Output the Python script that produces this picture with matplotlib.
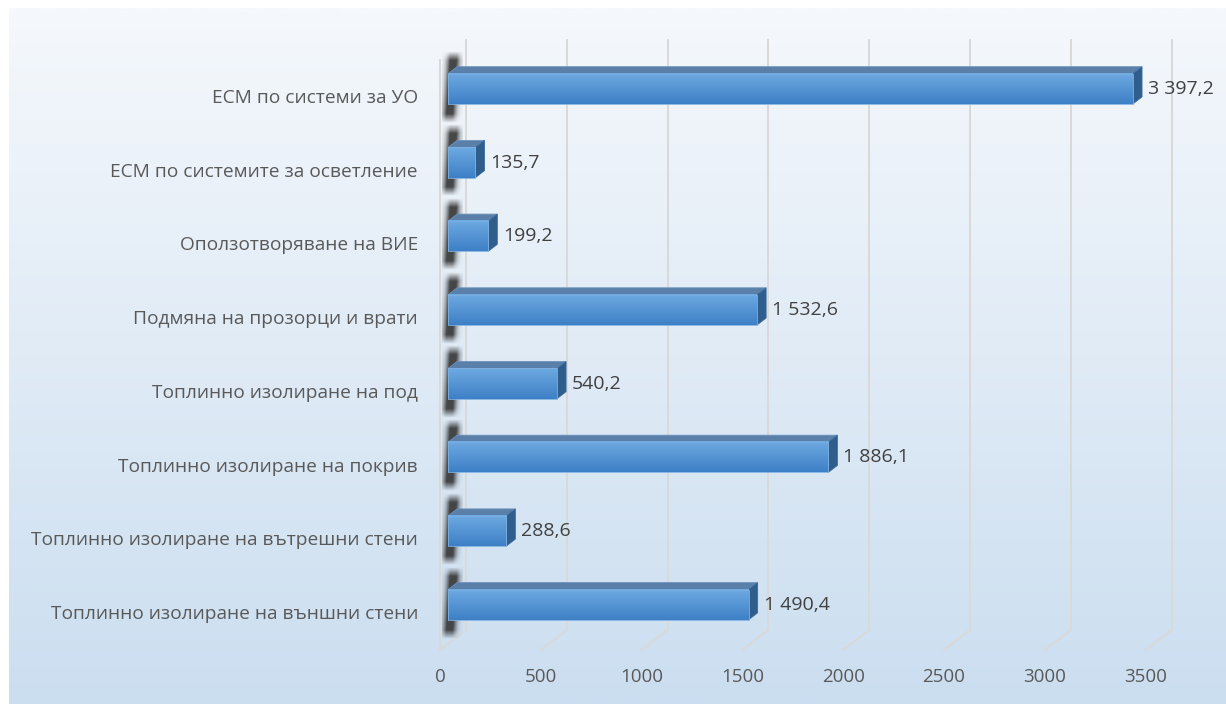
import numpy as np
import matplotlib.pyplot as plt
from matplotlib.colors import to_rgb

plt.rcParams['font.family'] = ['Open Sans', 'DejaVu Sans']

# --- data (top to bottom, as shown) ---
categories = [
    'ЕСМ по системи за УО',
    'ЕСМ по системите за осветление',
    'Оползотворяване на ВИЕ',
    'Подмяна на прозорци и врати',
    'Топлинно изолиране на под',
    'Топлинно изолиране на покрив',
    'Топлинно изолиране на вътрешни стени',
    'Топлинно изолиране на външни стени',
]
values = [3397.2, 135.7, 199.2, 1532.6, 540.2, 1886.1, 288.6, 1490.4]
x_ticks = [0, 500, 1000, 1500, 2000, 2500, 3000, 3500]

# --- fake 3D geometry ---
W, H = 1226, 704
px_per_unit = 100.8 / 500          # horizontal scale of the front plane
px_per_cat = 73.7                  # vertical spacing of categories
x0_px, y0_px = 440, 95             # value 0 / first category on front plane
depth_dx = 26 / px_per_unit        # full depth shift in data units (right)
depth_dy = -20 / px_per_cat        # full depth shift in data units (up)
bar_d0, bar_d1 = 0.31, 0.66        # bar front / back depth fraction
bar_h = 0.41                       # bar face height in category units
floor_y = len(categories) - 0.47   # floor line on front plane
top_y = -0.47                      # top of walls on front plane


def fmt(v):
    s = f'{v:,.1f}'
    return s.replace(',', ' ').replace('.', ',')


def vgrad(c_top, c_bot, n=64):
    a = np.array(to_rgb(c_top))
    b = np.array(to_rgb(c_bot))
    t = np.linspace(0, 1, n)[:, None]
    return (a * (1 - t) + b * t)[:, None, :]


# soft shadow texture on the side wall (slanted, fading at the ends)
sy = np.linspace(-1, 1, 120)[:, None]
sx = np.linspace(0, 1, 30)[None, :]
prof_y = np.clip((1 - np.abs(sy)) / 0.25, 0, 1)
cx = 0.45 - 0.12 * sy
prof_x = np.clip(np.exp(-((sx - cx) / 0.3) ** 2) * 1.3, 0, 1)
shadow = np.zeros((120, 30, 4))
shadow[..., :3] = 0.2
shadow[..., 3] = 0.9 * prof_y * prof_x

fig = plt.figure(figsize=(W / 100, H / 100), dpi=100)

# background gradient of the chart area
bg = fig.add_axes([9 / W, 0, 1 - 9 / W, 1 - 8 / H])
bg.imshow(vgrad('#f5f8fc', '#cbdef0'), aspect='auto', extent=(0, 1, 0, 1),
          interpolation='bilinear')
bg.axis('off')

ax = fig.add_axes([0, 0, 1, 1])
ax.set_facecolor('none')
ax.axis('off')

grid_c = '#d9d9d9'
# back wall gridlines + floor lines
for v in x_ticks:
    ax.plot([v + depth_dx, v + depth_dx], [floor_y + depth_dy, top_y + depth_dy],
            color=grid_c, lw=1.4, zorder=1)
    ax.plot([v, v + depth_dx], [floor_y, floor_y + depth_dy],
            color=grid_c, lw=1.4, zorder=1)
    ax.text(v, floor_y + 27 / px_per_cat, str(v), ha='center', va='center',
            fontsize=13.5, color='#595959')
# front edge of the left wall
ax.plot([0, 0], [floor_y, top_y], color=grid_c, lw=1.4, zorder=1)

for i, (cat, v) in enumerate(zip(categories, values)):
    fx0 = bar_d0 * depth_dx
    fx1 = v + bar_d0 * depth_dx
    fyt = i - bar_h / 2 + bar_d0 * depth_dy
    fyb = i + bar_h / 2 + bar_d0 * depth_dy
    bdx = (bar_d1 - bar_d0) * depth_dx
    bdy = (bar_d1 - bar_d0) * depth_dy

    # blurry shadow of the bar on the left wall
    sh_c = i + bar_d0 * depth_dy - 2 / px_per_cat
    ax.imshow(shadow, aspect='auto', interpolation='bilinear', zorder=2,
              extent=(0.08 * depth_dx, 0.85 * depth_dx,
                      sh_c + 36 / px_per_cat, sh_c - 36 / px_per_cat))

    # top face
    ax.fill([fx0, fx1, fx1 + bdx, fx0 + bdx], [fyt, fyt, fyt + bdy, fyt + bdy],
            color='#5a80a9', lw=0.6, edgecolor='#6b93bd', zorder=3)
    # end face
    ax.fill([fx1, fx1 + bdx, fx1 + bdx, fx1], [fyt, fyt + bdy, fyb + bdy, fyb],
            color='#2f5e8d', lw=0.6, edgecolor='#3a6c9c', zorder=3)
    # front face with gradient
    ax.imshow(vgrad('#6eaae2', '#3e80c6'), aspect='auto',
              extent=(fx0, fx1, fyb, fyt), interpolation='bilinear', zorder=4)
    ax.plot([fx0, fx1, fx1, fx0, fx0], [fyt, fyt, fyb, fyb, fyt],
            color='#7fb0e0', lw=0.6, zorder=5)

    # value label
    ax.text(v + bar_d1 * depth_dx + 6 / px_per_unit, i + bar_d0 * depth_dy,
            fmt(v), ha='left', va='center', fontsize=14, color='#404040')
    # category label
    ax.text(-22 / px_per_unit, i + 3 / px_per_cat, cat, ha='right', va='center',
            fontsize=13.8, color='#595959')

ax.set_xlim(-x0_px / px_per_unit, (W - x0_px) / px_per_unit)
ax.set_ylim((H - y0_px) / px_per_cat, -y0_px / px_per_cat)

fig.savefig('out.png', dpi=100)
